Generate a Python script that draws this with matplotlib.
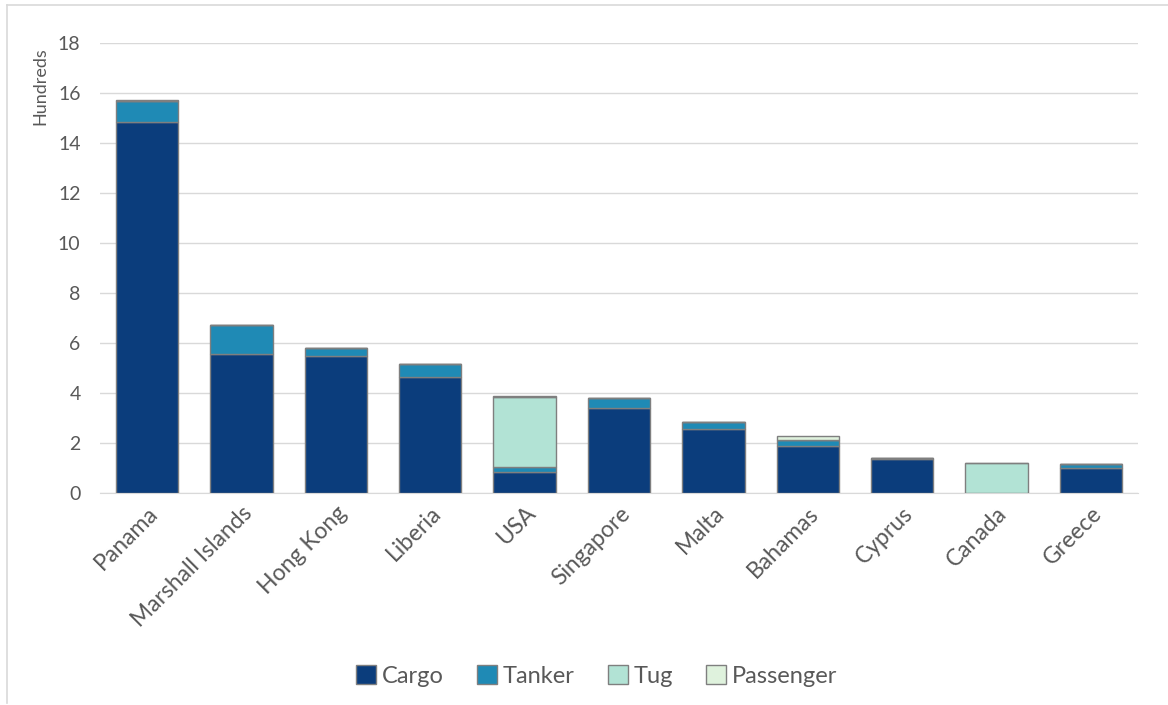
import matplotlib.pyplot as plt
from matplotlib.lines import Line2D
import numpy as np

plt.rcParams['font.family'] = ['Lato', 'DejaVu Sans']

countries = ['Panama', 'Marshall Islands', 'Hong Kong', 'Liberia', 'USA',
             'Singapore', 'Malta', 'Bahamas', 'Cyprus', 'Canada', 'Greece']
cargo = [14.85, 5.56, 5.49, 4.65, 0.85, 3.41, 2.56, 1.88, 1.36, 0.0, 1.00]
tanker = [0.83, 1.16, 0.32, 0.51, 0.20, 0.40, 0.27, 0.24, 0.05, 0.0, 0.18]
tug = [0.0, 0.0, 0.0, 0.0, 2.80, 0.0, 0.0, 0.0, 0.0, 1.21, 0.0]
passenger = [0.05, 0.02, 0.0, 0.0, 0.03, 0.0, 0.0, 0.17, 0.0, 0.0, 0.0]

series = [
    ('Cargo', cargo, '#0b3d7c'),
    ('Tanker', tanker, '#1f8ab5'),
    ('Tug', tug, '#b2e3d5'),
    ('Passenger', passenger, '#dff2dd'),
]

fig = plt.figure(figsize=(11.68, 7.05), dpi=100)
ax = fig.add_axes([100 / 1168, 1 - 493 / 705, 1038 / 1168, 450 / 705])

x = np.arange(len(countries))
bottom = np.zeros(len(countries))
for name, vals, col in series:
    vals = np.array(vals)
    ax.bar(x, vals, 0.66, bottom=bottom, color=col, edgecolor='#7f7f7f',
           linewidth=1.0, label=name, zorder=3)
    bottom += vals

ax.set_xlim(-0.5, len(countries) - 0.5)
ax.set_ylim(0, 18)
ax.set_yticks(range(0, 19, 2))
ax.yaxis.grid(True, color='#d9d9d9', linewidth=1)
ax.set_axisbelow(True)
for s in ['top', 'right', 'left']:
    ax.spines[s].set_visible(False)
ax.spines['bottom'].set_color('#d9d9d9')
ax.tick_params(axis='both', length=0, colors='#595959')
ax.tick_params(axis='y', pad=14, labelsize=14)
ax.set_xticks(x)
ax.set_xticklabels(countries, rotation=45, ha='right', rotation_mode='anchor')
ax.tick_params(axis='x', pad=7, labelsize=16.5)
ax.set_ylabel('Hundreds', color='#595959', fontsize=13)
ax.yaxis.set_label_coords(-0.05, 0.905)

leg = fig.legend(loc='center', bbox_to_anchor=(0.511, 1 - 676 / 705), ncol=4,
                 frameon=False, fontsize=17, handlelength=0.85, handleheight=0.85,
                 handletextpad=0.25, columnspacing=1.4, labelcolor='#595959')

# frame lines along the top and left of the figure
fig.add_artist(Line2D([7 / 1168, 1], [1 - 5 / 705, 1 - 5 / 705],
                      color='#d9d9d9', linewidth=1.2, transform=fig.transFigure))
fig.add_artist(Line2D([7 / 1168, 7 / 1168], [1 - 5 / 705, 0.003],
                      color='#d9d9d9', linewidth=1.2, transform=fig.transFigure))

fig.savefig('out.png', dpi=100)
